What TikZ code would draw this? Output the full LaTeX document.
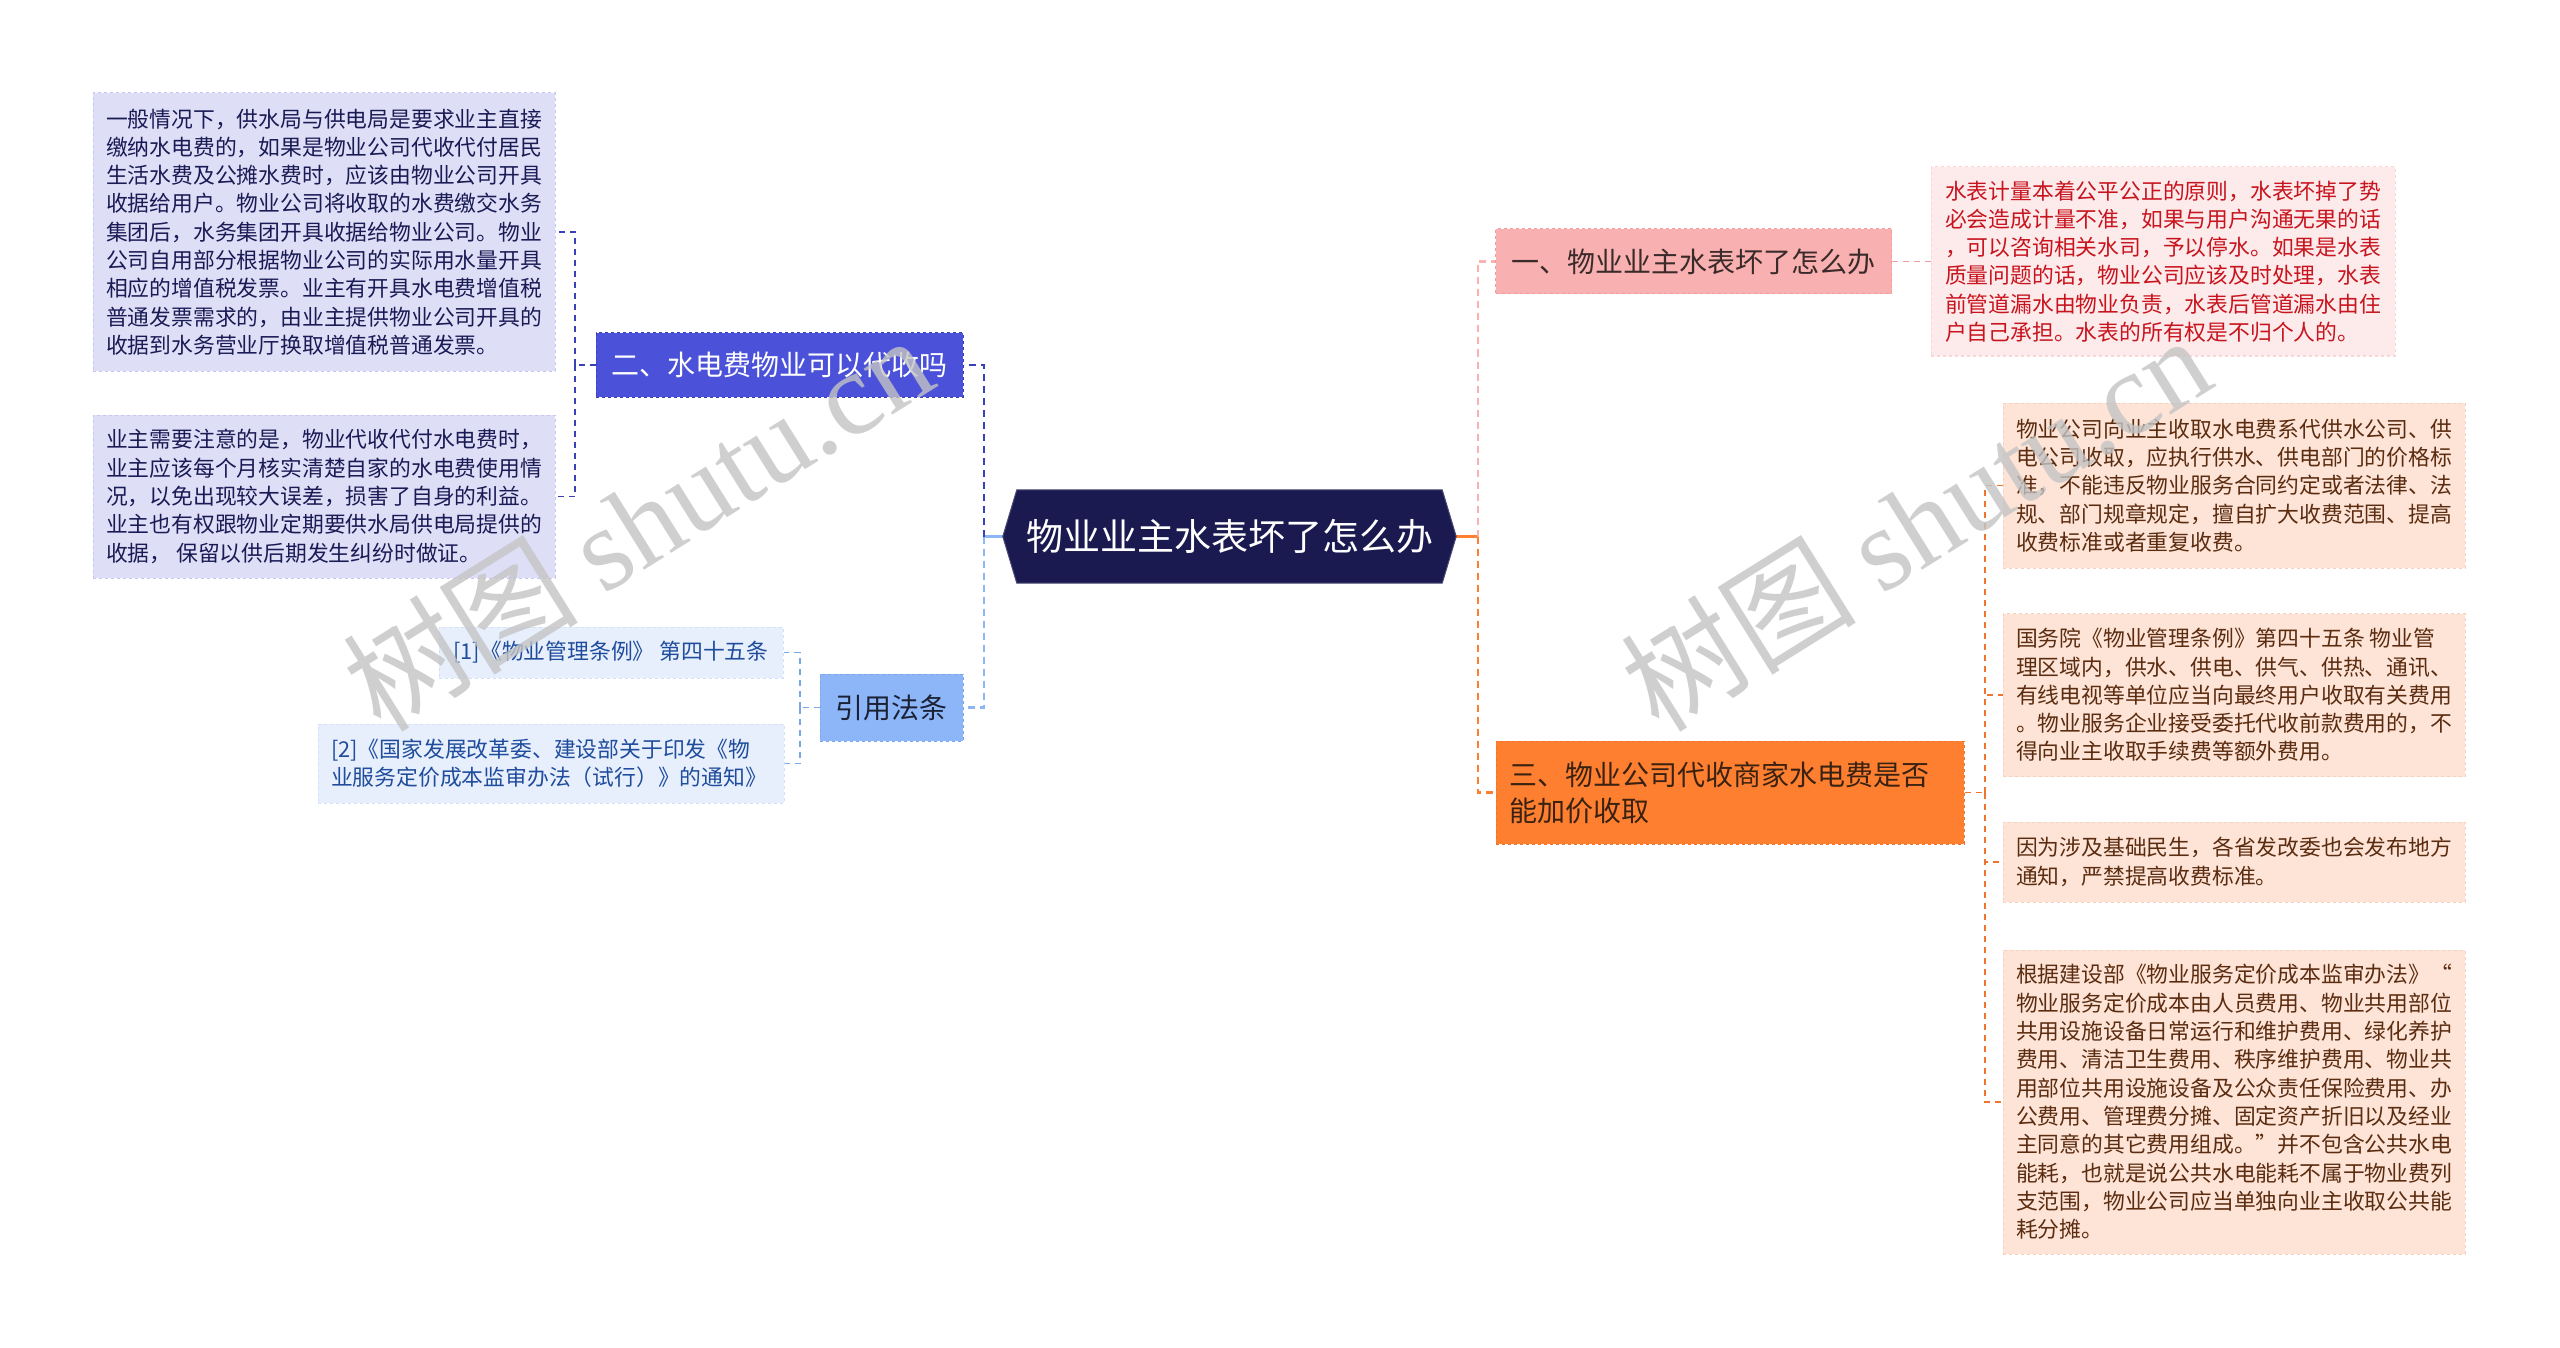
\documentclass[tikz,border=0pt]{standalone}
\usepackage{fontspec}
\setmainfont{Noto Sans CJK SC}
\newfontfamily\wmserif{Liberation Serif}
\definecolor{rootfill}{HTML}{1B1A50}
\definecolor{twofill}{HTML}{4B52D9}
\definecolor{twoline}{HTML}{3A41B8}
\definecolor{lavfill}{HTML}{DEDFF7}
\definecolor{lavline}{HTML}{C6C7EE}
\definecolor{lavtext}{HTML}{1A1A55}
\definecolor{lawfill}{HTML}{8CB6F8}
\definecolor{lawline}{HTML}{7AA6EC}
\definecolor{lawtext}{HTML}{1C2236}
\definecolor{refill}{HTML}{E7EFFC}
\definecolor{reline}{HTML}{D2E0F8}
\definecolor{retext}{HTML}{1F4C9C}
\definecolor{pinkfill}{HTML}{F8B0B0}
\definecolor{pinkline}{HTML}{F09C9C}
\definecolor{pinktext}{HTML}{3A2A2A}
\definecolor{redfill}{HTML}{FDEBEB}
\definecolor{redline}{HTML}{F8D6D6}
\definecolor{redtext}{HTML}{C8141E}
\definecolor{orfill}{HTML}{FE7F30}
\definecolor{orline}{HTML}{EE7430}
\definecolor{ortext}{HTML}{3A2212}
\definecolor{pchfill}{HTML}{FDE4D7}
\definecolor{pchline}{HTML}{F6D0BE}
\definecolor{pchtext}{HTML}{5B2C10}
\definecolor{wmgray}{HTML}{C4C4C4}
\tikzset{
  box/.style={rectangle, inner sep=0pt, align=left},
  leaftext/.style={font=\fontsize{21.8}{28.3}\selectfont},
  mainbox/.style={box, font=\fontsize{28}{36}\selectfont},
  lavbox/.style={box, leaftext, fill=lavfill, draw=lavline, dashed, text=lavtext, line width=1pt},
  refbox/.style={box, leaftext, fill=refill, draw=reline, dashed, text=retext, line width=1pt},
  redbox/.style={box, leaftext, fill=redfill, draw=redline, dashed, text=redtext, line width=1pt},
  pchbox/.style={box, leaftext, fill=pchfill, draw=pchline, dashed, text=pchtext, line width=1pt},
  conn/.style={dash pattern=on 7pt off 5pt, line width=2.2pt},
  subconn/.style={dash pattern=on 6pt off 5pt, line width=1.5pt},
  wm/.style={text=wmgray, opacity=0.8, font=\fontsize{118}{118}\selectfont}
}
\begin{document}
\begin{tikzpicture}[x=1pt,y=-1pt]
\useasboundingbox[fill=white] (0,0) rectangle (2560,1348);

% ---------- root ----------
\node[box, minimum width=453pt, minimum height=93pt, text=white,
      font=\fontsize{37}{40}\selectfont] (root) at (1229.5,536.5) {物业业主水表坏了怎么办};

% ---------- left ----------
\node[mainbox, fill=twofill, draw=twoline, dashed, line width=1pt, text=white,
      minimum width=367pt, minimum height=64pt] (n2) at (779.5,365) {二、水电费物业可以代收吗};
\node[lavbox, minimum width=462pt, minimum height=278pt] (A) at (324,232) {一般情况下，供水局与供电局是要求业主直接\\缴纳水电费的，如果是物业公司代收代付居民\\生活水费及公摊水费时，应该由物业公司开具\\收据给用户。物业公司将收取的水费缴交水务\\集团后，水务集团开具收据给物业公司。物业\\公司自用部分根据物业公司的实际用水量开具\\相应的增值税发票。业主有开具水电费增值税\\普通发票需求的，由业主提供物业公司开具的\\收据到水务营业厅换取增值税普通发票。};
\node[lavbox, minimum width=462pt, minimum height=163pt] (B) at (324,496.5) {业主需要注意的是，物业代收代付水电费时，\\业主应该每个月核实清楚自家的水电费使用情\\况，以免出现较大误差，损害了自身的利益。\\业主也有权跟物业定期要供水局供电局提供的\\收据， 保留以供后期发生纠纷时做证。};

\node[mainbox, fill=lawfill, draw=lawline, dashed, line width=1pt, text=lawtext,
      minimum width=143pt, minimum height=67pt] (law) at (891.5,707.5) {引用法条};
\node[refbox, minimum width=344pt, minimum height=51pt] (L1) at (611,652.5) {[1]《物业管理条例》 第四十五条};
\node[refbox, minimum width=466pt, minimum height=79pt, text width=440pt] (L2) at (551,763.5) {[2]《国家发展改革委、建设部关于印发《物\\业服务定价成本监审办法（试行）》的通知》};

% ---------- right ----------
\node[mainbox, fill=pinkfill, draw=pinkline, dashed, line width=1pt, text=pinktext,
      minimum width=396pt, minimum height=65pt] (n1) at (1693.5,261.5) {一、物业业主水表坏了怎么办};
\node[redbox, minimum width=464pt, minimum height=189pt] (red) at (2163,261.5) {水表计量本着公平公正的原则，水表坏掉了势\\必会造成计量不准，如果与用户沟通无果的话\\，可以咨询相关水司，予以停水。如果是水表\\质量问题的话，物业公司应该及时处理，水表\\前管道漏水由物业负责，水表后管道漏水由住\\户自己承担。水表的所有权是不归个人的。};

\node[mainbox, fill=orfill, draw=orline, dashed, line width=1pt, text=ortext,
      minimum width=468pt, minimum height=103pt, text width=442pt] (n3) at (1730,792.5) {三、物业公司代收商家水电费是否\\能加价收取};
\node[pchbox, minimum width=462pt, minimum height=165pt] (R1) at (2234,485.5) {物业公司向业主收取水电费系代供水公司、供\\电公司收取，应执行供水、供电部门的价格标\\准，不能违反物业服务合同约定或者法律、法\\规、部门规章规定，擅自扩大收费范围、提高\\收费标准或者重复收费。};
\node[pchbox, minimum width=462pt, minimum height=163pt] (R2) at (2234,695) {国务院《物业管理条例》第四十五条 物业管\\理区域内，供水、供电、供气、供热、通讯、\\有线电视等单位应当向最终用户收取有关费用\\。物业服务企业接受委托代收前款费用的，不\\得向业主收取手续费等额外费用。};
\node[pchbox, minimum width=462pt, minimum height=80pt] (R3) at (2234,862) {因为涉及基础民生，各省发改委也会发布地方\\通知，严禁提高收费标准。};
\node[pchbox, minimum width=462pt, minimum height=304pt] (R4) at (2234,1102) {根据建设部《物业服务定价成本监审办法》“\\物业服务定价成本由人员费用、物业共用部位\\共用设施设备日常运行和维护费用、绿化养护\\费用、清洁卫生费用、秩序维护费用、物业共\\用部位共用设施设备及公众责任保险费用、办\\公费用、管理费分摊、固定资产折旧以及经业\\主同意的其它费用组成。”并不包含公共水电\\能耗，也就是说公共水电能耗不属于物业费列\\支范围，物业公司应当单独向业主收取公共能\\耗分摊。};

% ---------- spine coordinates ----------
\coordinate (Ls) at (984,536.5);
\coordinate (Rs) at (1478,536.5);
\coordinate (s2) at (575,365);
\coordinate (s3) at (800,707.5);
\coordinate (s4) at (1985,792.5);

% ---------- connectors ----------
\draw[line width=3pt, lawfill] (root.west) -- (Ls);
\draw[conn, twoline] (Ls) |- (n2.east);
\draw[conn, lawfill] (Ls) |- (law.east);
\draw[line width=3pt, orfill] (root.east) -- (Rs);
\draw[conn, pinkfill] (Rs) |- (n1.west);
\draw[conn, orfill] (Rs) |- (n3.west);

\draw[subconn, twoline] (n2.west) -- (s2);
\draw[subconn, twoline] (s2) |- (A.east);
\draw[subconn, twoline] (s2) |- (B.east);

\draw[subconn, lawline] (law.west) -- (s3);
\draw[subconn, lawline] (s3) |- (L1.east);
\draw[subconn, lawline] (s3) |- (L2.east);

\draw[subconn, pinkline] (n1.east) -- (red.west);

\draw[subconn, orline] (n3.east) -- (s4);
\draw[subconn, orline] (s4) |- (R1.west);
\draw[subconn, orline] (s4) |- (R2.west);
\draw[subconn, orline] (s4) |- (R3.west);
\draw[subconn, orline] (s4) |- (R4.west);

% root hexagon drawn over the anchor node, then its text set on top
\fill[rootfill, draw=rootfill!80!white, line width=1pt]
  (root.west) -- ([xshift=14pt]root.north west) -- ([xshift=-14pt]root.north east)
  -- (root.east) -- ([xshift=-14pt]root.south east) -- ([xshift=14pt]root.south west) -- cycle;
\node[box, text=white, font=\fontsize{37}{40}\selectfont] (roottext) at (root.center) {物业业主水表坏了怎么办};

% ---------- watermarks ----------
\node[wm, rotate=32] (wm1) at (637,522) {树图 {\wmserif shutu.cn}};
\node[wm, rotate=32] (wm2) at (1915,522) {树图 {\wmserif shutu.cn}};
\end{tikzpicture}
\end{document}
